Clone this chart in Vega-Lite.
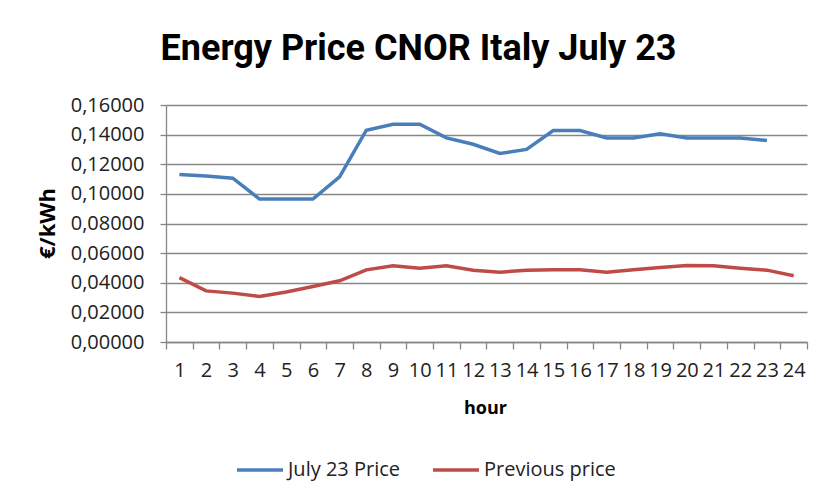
{
  "$schema": "https://vega.github.io/schema/vega-lite/v6.json",
  "autosize": {"type": "none"},
  "width": 641,
  "height": 237,
  "padding": {"left": 166, "top": 105, "right": 14, "bottom": 155},
  "background": "#ffffff",
  "title": {
    "text": "Energy Price CNOR Italy July 23",
    "font": "Roboto",
    "fontSize": 36,
    "fontWeight": "bold",
    "color": "#000000",
    "anchor": "middle",
    "dx": -68,
    "baseline": "alphabetic",
    "offset": -1
  },
  "data": {
    "values": [
      {"hour": 1, "series": "July 23 Price", "price": 0.1131},
      {"hour": 2, "series": "July 23 Price", "price": 0.1120},
      {"hour": 3, "series": "July 23 Price", "price": 0.1106},
      {"hour": 4, "series": "July 23 Price", "price": 0.0965},
      {"hour": 5, "series": "July 23 Price", "price": 0.0965},
      {"hour": 6, "series": "July 23 Price", "price": 0.0965},
      {"hour": 7, "series": "July 23 Price", "price": 0.1115},
      {"hour": 8, "series": "July 23 Price", "price": 0.1430},
      {"hour": 9, "series": "July 23 Price", "price": 0.1470},
      {"hour": 10, "series": "July 23 Price", "price": 0.1470},
      {"hour": 11, "series": "July 23 Price", "price": 0.1378},
      {"hour": 12, "series": "July 23 Price", "price": 0.1335},
      {"hour": 13, "series": "July 23 Price", "price": 0.1273},
      {"hour": 14, "series": "July 23 Price", "price": 0.1300},
      {"hour": 15, "series": "July 23 Price", "price": 0.1428},
      {"hour": 16, "series": "July 23 Price", "price": 0.1428},
      {"hour": 17, "series": "July 23 Price", "price": 0.1378},
      {"hour": 18, "series": "July 23 Price", "price": 0.1378},
      {"hour": 19, "series": "July 23 Price", "price": 0.1405},
      {"hour": 20, "series": "July 23 Price", "price": 0.1378},
      {"hour": 21, "series": "July 23 Price", "price": 0.1378},
      {"hour": 22, "series": "July 23 Price", "price": 0.1378},
      {"hour": 23, "series": "July 23 Price", "price": 0.1360},
      {"hour": 1, "series": "Previous price", "price": 0.0435},
      {"hour": 2, "series": "Previous price", "price": 0.0345},
      {"hour": 3, "series": "Previous price", "price": 0.0330},
      {"hour": 4, "series": "Previous price", "price": 0.0307},
      {"hour": 5, "series": "Previous price", "price": 0.0337},
      {"hour": 6, "series": "Previous price", "price": 0.0375},
      {"hour": 7, "series": "Previous price", "price": 0.0413},
      {"hour": 8, "series": "Previous price", "price": 0.0487},
      {"hour": 9, "series": "Previous price", "price": 0.0514},
      {"hour": 10, "series": "Previous price", "price": 0.0498},
      {"hour": 11, "series": "Previous price", "price": 0.0514},
      {"hour": 12, "series": "Previous price", "price": 0.0485},
      {"hour": 13, "series": "Previous price", "price": 0.0471},
      {"hour": 14, "series": "Previous price", "price": 0.0485},
      {"hour": 15, "series": "Previous price", "price": 0.0488},
      {"hour": 16, "series": "Previous price", "price": 0.0487},
      {"hour": 17, "series": "Previous price", "price": 0.0471},
      {"hour": 18, "series": "Previous price", "price": 0.0487},
      {"hour": 19, "series": "Previous price", "price": 0.0503},
      {"hour": 20, "series": "Previous price", "price": 0.0516},
      {"hour": 21, "series": "Previous price", "price": 0.0514},
      {"hour": 22, "series": "Previous price", "price": 0.0498},
      {"hour": 23, "series": "Previous price", "price": 0.0485},
      {"hour": 24, "series": "Previous price", "price": 0.0447}
    ]
  },
  "mark": {"type": "line", "strokeWidth": 3.5, "interpolate": "linear"},
  "encoding": {
    "x": {
      "field": "hour",
      "type": "ordinal",
      "bandPosition": 0.5,
      "scale": {"type": "band", "paddingInner": 0, "paddingOuter": 0},
      "axis": {
        "title": "hour",
        "titleFont": "Open Sans",
        "titleFontSize": 18,
        "titleFontWeight": "bold",
        "titleColor": "#000000",
        "titleX": 319,
        "titleY": 66,
        "titleBaseline": "middle",
        "titleAlign": "center",
        "labelFont": "Open Sans",
        "labelFontSize": 20,
        "labelColor": "#222222",
        "labelAngle": 0,
        "labelPadding": 11,
        "labelOverlap": false,
        "labelFlush": false,
        "tickBand": "extent",
        "tickSize": 7,
        "tickColor": "#868686",
        "tickWidth": 1.3,
        "domainColor": "#868686",
        "domainWidth": 1.3,
        "grid": false
      }
    },
    "y": {
      "field": "price",
      "type": "quantitative",
      "scale": {"domain": [0, 0.16], "nice": false, "zero": true},
      "axis": {
        "title": "€/kWh",
        "titleFont": "Open Sans",
        "titleFontSize": 22,
        "titleFontWeight": "bold",
        "titleColor": "#000000",
        "titleX": -119,
        "titleY": 118,
        "titleAngle": -90,
        "titleBaseline": "middle",
        "titleAlign": "center",
        "values": [0, 0.02, 0.04, 0.06, 0.08, 0.1, 0.12, 0.14, 0.16],
        "labelExpr": "replace(format(datum.value, '.5f'), '.', ',')",
        "labelFont": "Open Sans",
        "labelFontSize": 20,
        "labelColor": "#222222",
        "labelPadding": 16,
        "tickSize": 6,
        "tickColor": "#868686",
        "tickWidth": 1.3,
        "domainColor": "#868686",
        "domainWidth": 1.3,
        "grid": true,
        "gridColor": "#868686",
        "gridWidth": 1.3
      }
    },
    "color": {
      "field": "series",
      "type": "nominal",
      "scale": {"domain": ["July 23 Price", "Previous price"], "range": ["#4A7EBB", "#BE4B48"]},
      "legend": {
        "title": null,
        "orient": "none",
        "direction": "horizontal",
        "legendX": 69,
        "legendY": 340,
        "symbolType": "stroke",
        "symbolSize": 2116,
        "symbolStrokeWidth": 3.5,
        "labelFont": "Open Sans",
        "labelFontSize": 20,
        "labelColor": "#222222",
        "labelOffset": 3,
        "columnPadding": 25
      }
    }
  },
  "config": {
    "view": {"stroke": null}
  }
}
